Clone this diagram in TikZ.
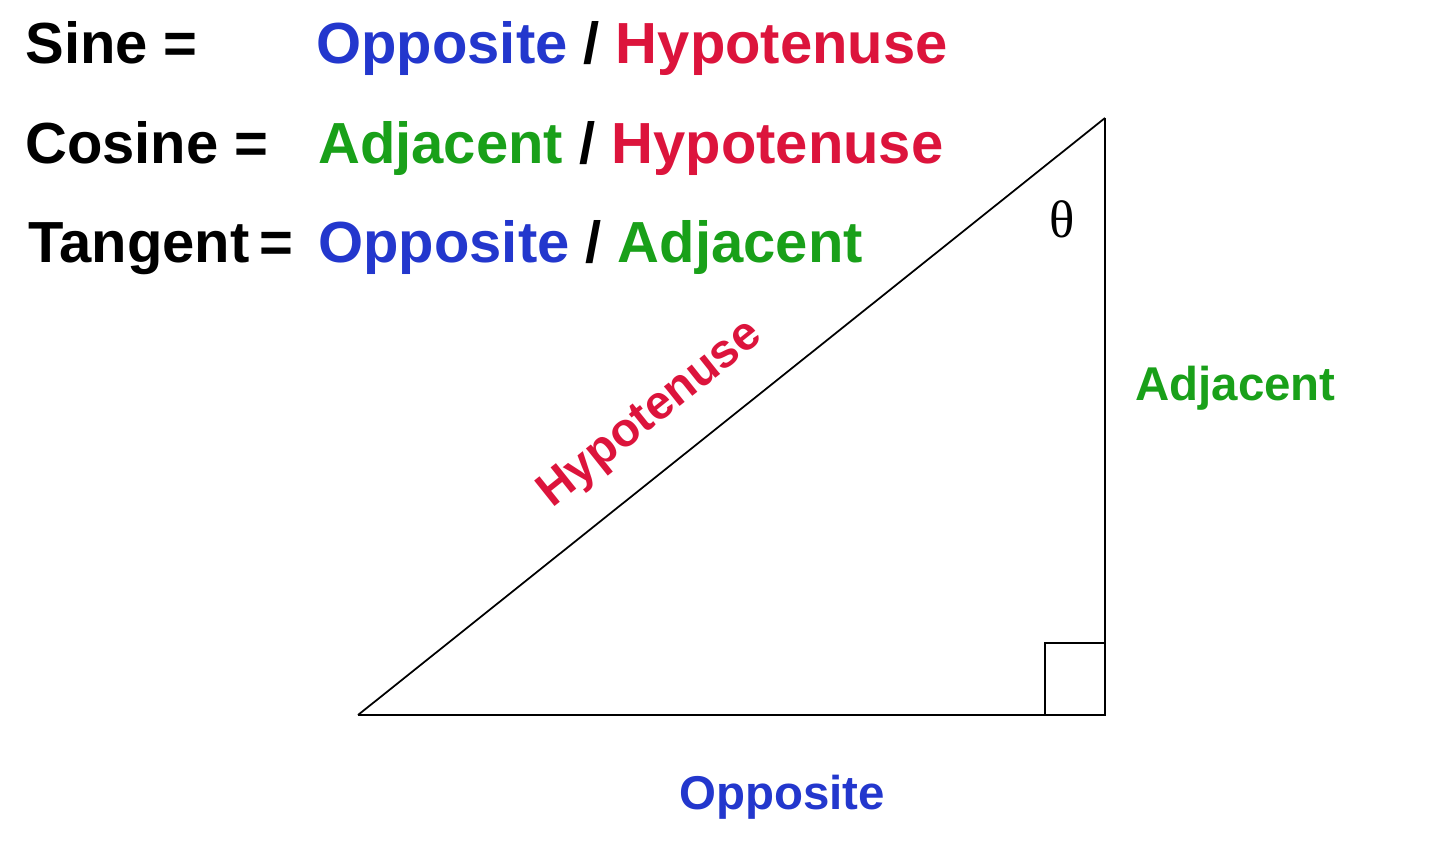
\documentclass[tikz,border=0pt]{standalone}
\usepackage{fontspec}
\setmainfont{Liberation Sans}
\newfontfamily\thetafont{Liberation Serif}
\definecolor{oppblue}{RGB}{35,55,205}
\definecolor{hypred}{RGB}{220,20,60}
\definecolor{adjgreen}{RGB}{25,160,25}

\begin{document}
\begin{tikzpicture}[x=0.02cm, y=-0.02cm,
    every node/.style={inner sep=0pt},
    formula/.style={anchor=base west, font=\fontsize{33}{36}\selectfont\bfseries},
    sidelabel/.style={font=\fontsize{27}{30}\selectfont\bfseries},
    side/.style={line width=1.5pt, black},
    hyp/.style={line width=1pt, black}]
  \useasboundingbox (0,0) rectangle (1440,862);
  % formulas
  \node[formula] (sine) at (25,63) {Sine =};
  \node[formula] (sineval) at (316,63) {\textcolor{oppblue}{Opposite} / \textcolor{hypred}{Hypotenuse}};
  \node[formula] (cosine) at (25,163) {Cosine =};
  \node[formula] (cosineval) at (318,163) {\textcolor{adjgreen}{Adjacent} / \textcolor{hypred}{Hypotenuse}};
  \node[formula] (tangent) at (28,262) {Tangent\,=};
  \node[formula] (tangentval) at (318,262) {\textcolor{oppblue}{Opposite} / \textcolor{adjgreen}{Adjacent}};
  % triangle
  \coordinate (A) at (358,715);
  \coordinate (B) at (1105,715);
  \coordinate (C) at (1105,118);
  \draw[hyp] (A) -- (C);
  \draw[side] (A) -- (B) -- (C);
  \draw[line width=1.1pt] (1045,715) |- (1105,643);
  % labels
  \node[font=\thetafont\fontsize{30}{32}\selectfont] (theta) at (1062,219) {θ};
  \node[sidelabel, text=hypred, rotate=38.6] (hyplabel) at (651,415) {Hypotenuse};
  \node[sidelabel, text=adjgreen, anchor=west] (adjlabel) at (1135,388) {Adjacent};
  \node[sidelabel, text=oppblue] (opplabel) at (782,797) {Opposite};
\end{tikzpicture}
\end{document}
